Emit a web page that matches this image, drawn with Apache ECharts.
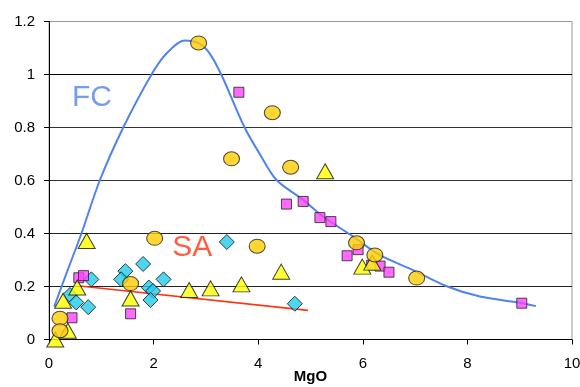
<!DOCTYPE html>
<html>
<head>
<meta charset="utf-8">
<script src="https://cdn.jsdelivr.net/npm/echarts@6/dist/echarts.min.js"></script>
<style>
html,body{margin:0;padding:0;background:#fff;}
#chart{width:580px;height:387px;}
</style>
</head>
<body>
<div id="chart"></div>
<script>
// ---- data (MgO vs y) ----
const xTicks = [0, 2, 4, 6, 8, 10];
const yTicks = [0, 0.2, 0.4, 0.6, 0.8, 1, 1.2];

const circles = [
  [2.86, 1.119], [4.27, 0.856], [3.49, 0.682], [4.62, 0.650], [2.02, 0.382],
  [3.98, 0.352], [1.56, 0.211], [0.21, 0.080], [0.21, 0.033], [5.88, 0.365],
  [6.23, 0.319], [7.03, 0.232]
];
const triangles = [
  [0.12, 0.0], [0.36, 0.033], [0.72, 0.372], [0.27, 0.146], [0.54, 0.196],
  [1.56, 0.155], [2.68, 0.187], [3.09, 0.193], [3.68, 0.208], [4.44, 0.256],
  [5.28, 0.635], [5.99, 0.275], [6.18, 0.29]
];
const diamonds = [
  [0.81, 0.227], [0.40, 0.168], [0.52, 0.140], [0.75, 0.122], [1.46, 0.258],
  [1.38, 0.227], [1.80, 0.285], [1.91, 0.196], [1.99, 0.183], [1.94, 0.149],
  [2.19, 0.227], [3.40, 0.368], [4.70, 0.135]
];
const squares = [
  [3.63, 0.933], [4.86, 0.521], [4.54, 0.511], [5.18, 0.460], [5.39, 0.445],
  [5.70, 0.316], [5.91, 0.339], [6.17, 0.281], [6.33, 0.277], [6.50, 0.254],
  [9.04, 0.137], [0.57, 0.233], [0.66, 0.241], [0.44, 0.082], [1.56, 0.097]
];
const fcCurve = [
  [0.10, 0.124], [0.35, 0.258], [0.62, 0.40], [0.97, 0.60], [1.42, 0.80],
  [1.96, 1.00], [2.25, 1.08], [2.59, 1.128], [2.86, 1.118], [3.07, 1.08],
  [3.30, 0.997], [3.74, 0.80], [4.03, 0.70], [4.35, 0.602], [4.86, 0.527],
  [5.24, 0.464], [5.81, 0.389], [6.32, 0.319], [6.96, 0.262], [7.63, 0.199],
  [8.24, 0.162], [9.00, 0.139], [9.31, 0.126]
];
const saLine = [[0.59, 0.202], [4.95, 0.110]];
const curveLabels = [
  { name: 'FC', value: [0.82, 0.912] },
  { name: 'SA', value: [2.74, 0.345] }
];

const FONT = '"Liberation Sans", Arial, sans-serif';
const FC_COLOR = '#4F84EC';
const SA_COLOR = '#FF3311';
const chart = echarts.init(document.getElementById('chart'), null, { renderer: 'canvas' });

const option = {
  backgroundColor: '#fff',
  animation: false,
  grid: {
    left: 49, right: 8, top: 21.5, bottom: 47.5,
    containLabel: false, outerBoundsMode: 'none',
    show: true, borderColor: '#999', borderWidth: 1
  },
  xAxis: {
    type: 'value', min: xTicks[0], max: xTicks[xTicks.length - 1], interval: 2,
    name: 'MgO', nameLocation: 'middle', nameGap: 30, nameMoveOverlap: false,
    nameTextStyle: { fontFamily: FONT, fontSize: 15, fontWeight: 'bold', color: '#000' },
    axisLine: { show: true, onZero: false, lineStyle: { color: '#000', width: 1 } },
    axisTick: { show: true, length: 5, lineStyle: { color: '#000' } },
    axisLabel: { fontFamily: FONT, fontSize: 15, color: '#000', margin: 17 },
    splitLine: { show: false }
  },
  yAxis: {
    type: 'value', min: yTicks[0], max: yTicks[yTicks.length - 1], interval: 0.2,
    axisLine: { show: true, onZero: false, lineStyle: { color: '#000', width: 1 } },
    axisTick: { show: true, length: 5, lineStyle: { color: '#000' } },
    axisLabel: {
      fontFamily: FONT, fontSize: 15, color: '#000', margin: 14,
      formatter: v => String(Math.round(v * 10) / 10)
    },
    splitLine: {
      show: true,
      lineStyle: { color: ['#111', '#222', '#222', '#333', '#333', '#000', '#999'], width: 1.2 }
    }
  },
  series: [
    {
      type: 'line', data: fcCurve, smooth: 0.3, symbol: 'none', z: 3,
      lineStyle: { color: FC_COLOR, width: 2 }
    },
    {
      type: 'line', data: saLine, symbol: 'none', z: 3,
      lineStyle: { color: SA_COLOR, width: 1.6 }
    },
    {
      type: 'scatter', data: diamonds, symbol: 'diamond', symbolSize: [15, 15], z: 4,
      itemStyle: { color: '#22CCEE', borderColor: '#111', borderWidth: 1 }
    },
    {
      type: 'scatter', data: squares, symbol: 'rect', symbolSize: [10, 10], z: 5,
      itemStyle: { color: '#FF44FF', borderColor: '#222', borderWidth: 1 }
    },
    {
      type: 'scatter', data: triangles, symbol: 'triangle', symbolSize: [17, 15], z: 6,
      itemStyle: { color: '#FFFF00', borderColor: '#111', borderWidth: 1 }
    },
    {
      type: 'scatter', data: circles, symbol: 'circle', symbolSize: [16, 14], z: 7,
      itemStyle: { color: '#FFCC00', borderColor: '#222', borderWidth: 1 }
    },
    {
      type: 'scatter', z: 8, silent: true, symbolSize: 0,
      itemStyle: { color: 'transparent' },
      data: curveLabels.map((d, i) => ({
        name: d.name, value: d.value,
        label: {
          show: true, position: 'inside', formatter: p => p.name,
          fontFamily: FONT, fontSize: 30, color: i === 0 ? FC_COLOR : SA_COLOR
        }
      }))
    }
  ]
};
chart.setOption(option);
</script>
</body>
</html>
